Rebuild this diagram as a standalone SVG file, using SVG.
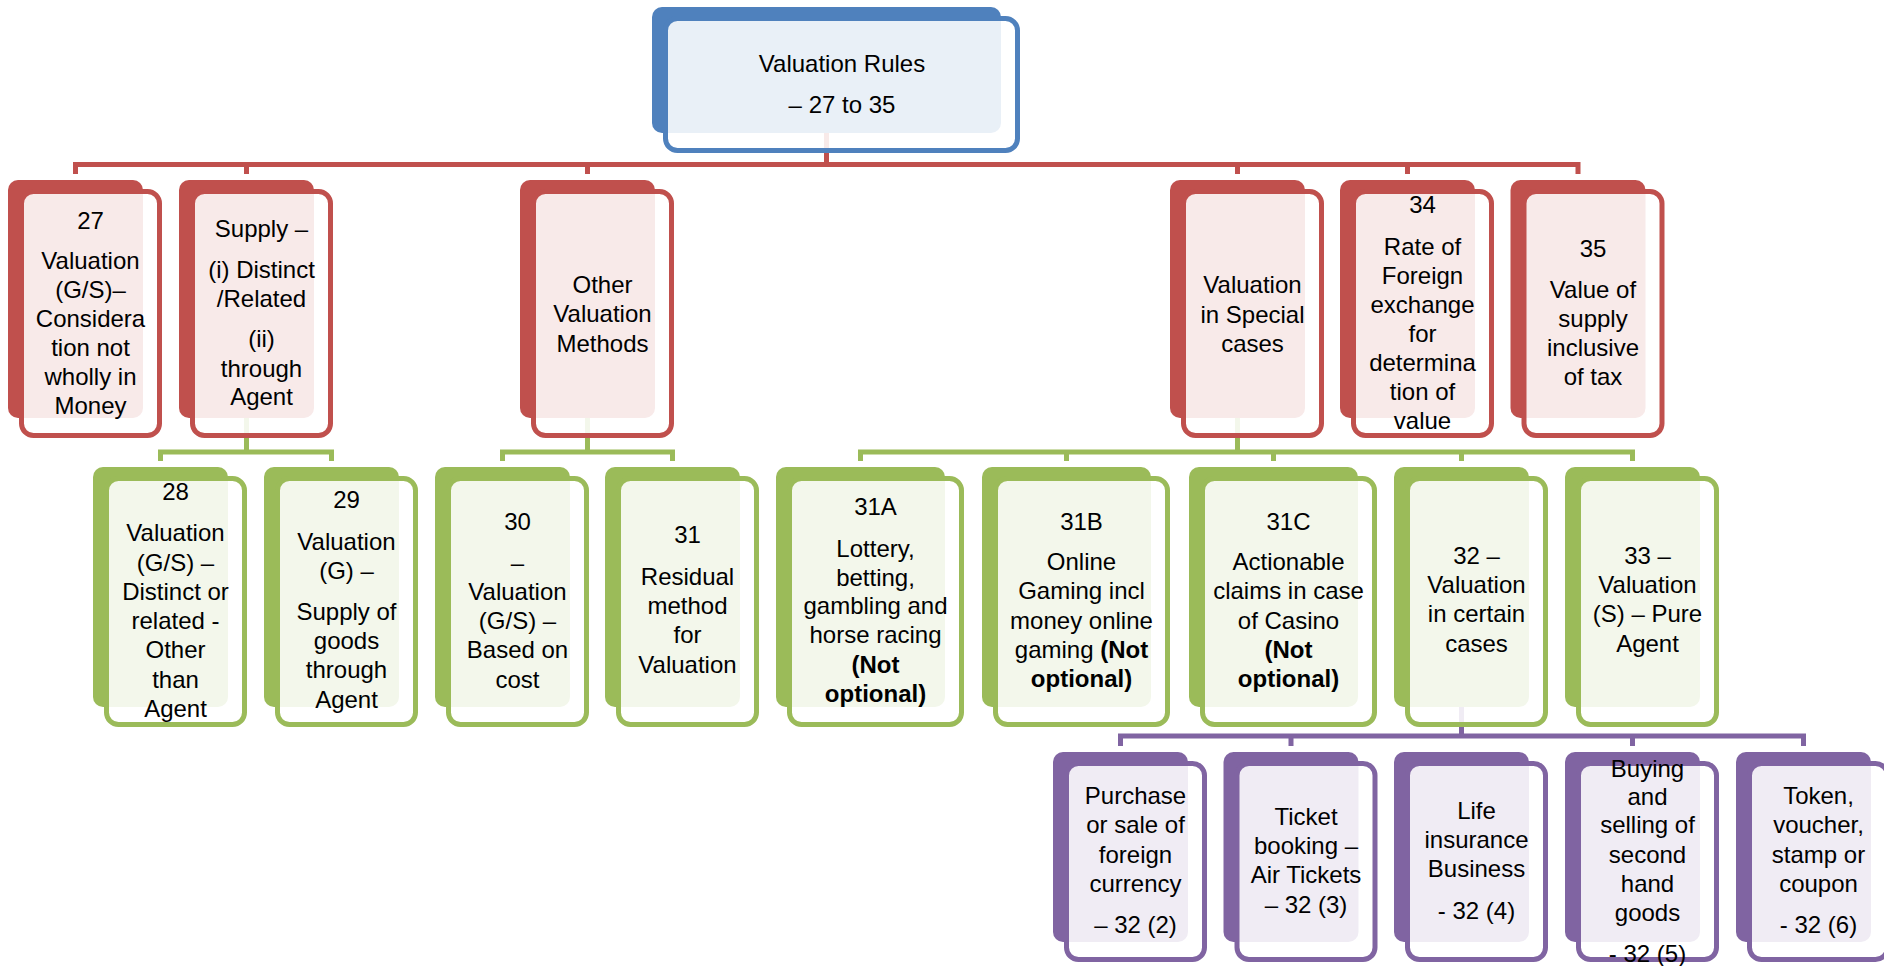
<svg xmlns="http://www.w3.org/2000/svg" width="1884" height="966" viewBox="0 0 1884 966">
  <style>
    .bg { fill: #ffffff; }
    .t { font-family: "Liberation Sans", Arial, sans-serif; font-size: 24px; text-anchor: middle; fill: #000000; }
    .b { font-weight: bold; }
    .link { fill: none; stroke-width: 5; stroke-linejoin: miter; }
    .l-red { stroke: #C0504D; }
    .l-green { stroke: #9BBB59; }
    .l-purple { stroke: #8064A2; }
    .back-blue { fill: #4F81BD; }
    .back-red { fill: #C0504D; }
    .back-green { fill: #9BBB59; }
    .back-purple { fill: #8064A2; }
    .front { fill: #ffffff; fill-opacity: 0.88; stroke-width: 5; }
    .front-blue { stroke: #4F81BD; }
    .front-red { stroke: #C0504D; }
    .front-green { stroke: #9BBB59; }
    .front-purple { stroke: #8064A2; }
  </style>
  <rect class="bg" x="0" y="0" width="1884" height="966"/>

  <!-- connectors (drawn beneath the boxes) -->
  <g id="connectors">
    <path class="link l-red" d="M826.5,133 V164.5"/>
    <path class="link l-red" d="M75.5,174 V164.5 H1578 V174"/>
    <path class="link l-red" d="M246.5,164.5 V174 M587.5,164.5 V174 M1237.5,164.5 V174 M1407.5,164.5 V174"/>

    <path class="link l-green" d="M246.5,418 V452"/>
    <path class="link l-green" d="M160.5,461 V452 H331.5 V461"/>
    <path class="link l-green" d="M587.5,418 V452"/>
    <path class="link l-green" d="M502.5,461 V452 H672.5 V461"/>
    <path class="link l-green" d="M1237.5,418 V452"/>
    <path class="link l-green" d="M860.5,461 V452 H1632.5 V461"/>
    <path class="link l-green" d="M1066.5,452 V461 M1273.5,452 V461 M1461.5,452 V461"/>

    <path class="link l-purple" d="M1461.5,707 V736"/>
    <path class="link l-purple" d="M1120.5,746 V736 H1803.5 V746"/>
    <path class="link l-purple" d="M1291,736 V746 M1632.5,736 V746"/>
  </g>

  <!-- root -->
  <g id="root">
    <rect class="back-blue" x="652" y="7" width="349" height="126" rx="10"/>
    <rect class="front front-blue" x="665.5" y="18.5" width="352" height="132" rx="12"/>
    <text class="t" x="842" y="72">Valuation Rules</text>
    <text class="t" x="842" y="113">– 27 to 35</text>
  </g>

  <!-- level 1 -->
  <g id="r27">
    <rect class="back-red" x="8" y="180" width="135" height="238" rx="10"/>
    <rect class="front front-red" x="21.5" y="191.5" width="138" height="244" rx="12"/>
    <text class="t" x="90.5" y="229">27</text>
    <text class="t" x="90.5" y="269">Valuation</text>
    <text class="t" x="90.5" y="298">(G/S)–</text>
    <text class="t" x="90.5" y="327">Considera</text>
    <text class="t" x="90.5" y="356">tion not</text>
    <text class="t" x="90.5" y="385">wholly in</text>
    <text class="t" x="90.5" y="414">Money</text>
  </g>
  <g id="supply">
    <rect class="back-red" x="179" y="180" width="135" height="238" rx="10"/>
    <rect class="front front-red" x="192.5" y="191.5" width="138" height="244" rx="12"/>
    <text class="t" x="261.5" y="237">Supply –</text>
    <text class="t" x="261.5" y="278">(i) Distinct</text>
    <text class="t" x="261.5" y="307">/Related</text>
    <text class="t" x="261.5" y="347">(ii)</text>
    <text class="t" x="261.5" y="377">through</text>
    <text class="t" x="261.5" y="405">Agent</text>
  </g>
  <g id="other">
    <rect class="back-red" x="520" y="180" width="135" height="238" rx="10"/>
    <rect class="front front-red" x="533.5" y="191.5" width="138" height="244" rx="12"/>
    <text class="t" x="602.5" y="293">Other</text>
    <text class="t" x="602.5" y="322">Valuation</text>
    <text class="t" x="602.5" y="352">Methods</text>
  </g>
  <g id="special">
    <rect class="back-red" x="1170" y="180" width="135" height="238" rx="10"/>
    <rect class="front front-red" x="1183.5" y="191.5" width="138" height="244" rx="12"/>
    <text class="t" x="1252.5" y="293">Valuation</text>
    <text class="t" x="1252.5" y="323">in Special</text>
    <text class="t" x="1252.5" y="352">cases</text>
  </g>
  <g id="r34">
    <rect class="back-red" x="1340" y="180" width="135" height="238" rx="10"/>
    <rect class="front front-red" x="1353.5" y="191.5" width="138" height="244" rx="12"/>
    <text class="t" x="1422.5" y="213">34</text>
    <text class="t" x="1422.5" y="255">Rate of</text>
    <text class="t" x="1422.5" y="284">Foreign</text>
    <text class="t" x="1422.5" y="313">exchange</text>
    <text class="t" x="1422.5" y="342">for</text>
    <text class="t" x="1422.5" y="371">determina</text>
    <text class="t" x="1422.5" y="400">tion of</text>
    <text class="t" x="1422.5" y="429">value</text>
  </g>
  <g id="r35">
    <rect class="back-red" x="1510.5" y="180" width="135" height="238" rx="10"/>
    <rect class="front front-red" x="1524" y="191.5" width="138" height="244" rx="12"/>
    <text class="t" x="1593" y="257">35</text>
    <text class="t" x="1593" y="298">Value of</text>
    <text class="t" x="1593" y="327">supply</text>
    <text class="t" x="1593" y="356">inclusive</text>
    <text class="t" x="1593" y="385">of tax</text>
  </g>

  <!-- level 2 -->
  <g id="r28">
    <rect class="back-green" x="93" y="467" width="135" height="240" rx="10"/>
    <rect class="front front-green" x="106.5" y="478.5" width="138" height="246" rx="12"/>
    <text class="t" x="175.5" y="500">28</text>
    <text class="t" x="175.5" y="541">Valuation</text>
    <text class="t" x="175.5" y="571">(G/S) –</text>
    <text class="t" x="175.5" y="600">Distinct or</text>
    <text class="t" x="175.5" y="629">related -</text>
    <text class="t" x="175.5" y="658">Other</text>
    <text class="t" x="175.5" y="688">than</text>
    <text class="t" x="175.5" y="717">Agent</text>
  </g>
  <g id="r29">
    <rect class="back-green" x="264" y="467" width="135" height="240" rx="10"/>
    <rect class="front front-green" x="277.5" y="478.5" width="138" height="246" rx="12"/>
    <text class="t" x="346.5" y="508">29</text>
    <text class="t" x="346.5" y="550">Valuation</text>
    <text class="t" x="346.5" y="579">(G) –</text>
    <text class="t" x="346.5" y="620">Supply of</text>
    <text class="t" x="346.5" y="649">goods</text>
    <text class="t" x="346.5" y="678">through</text>
    <text class="t" x="346.5" y="708">Agent</text>
  </g>
  <g id="r30">
    <rect class="back-green" x="435" y="467" width="135" height="240" rx="10"/>
    <rect class="front front-green" x="448.5" y="478.5" width="138" height="246" rx="12"/>
    <text class="t" x="517.5" y="530">30</text>
    <text class="t" x="517.5" y="571">–</text>
    <text class="t" x="517.5" y="600">Valuation</text>
    <text class="t" x="517.5" y="629">(G/S) –</text>
    <text class="t" x="517.5" y="658">Based on</text>
    <text class="t" x="517.5" y="688">cost</text>
  </g>
  <g id="r31">
    <rect class="back-green" x="605" y="467" width="135" height="240" rx="10"/>
    <rect class="front front-green" x="618.5" y="478.5" width="138" height="246" rx="12"/>
    <text class="t" x="687.5" y="543">31</text>
    <text class="t" x="687.5" y="585">Residual</text>
    <text class="t" x="687.5" y="614">method</text>
    <text class="t" x="687.5" y="643">for</text>
    <text class="t" x="687.5" y="673">Valuation</text>
  </g>
  <g id="r31a">
    <rect class="back-green" x="776" y="467" width="169" height="240" rx="10"/>
    <rect class="front front-green" x="789.5" y="478.5" width="172" height="246" rx="12"/>
    <text class="t" x="875.5" y="515">31A</text>
    <text class="t" x="875.5" y="557">Lottery,</text>
    <text class="t" x="875.5" y="586">betting,</text>
    <text class="t" x="875.5" y="614">gambling and</text>
    <text class="t" x="875.5" y="643">horse racing</text>
    <text class="t b" x="875.5" y="673">(Not</text>
    <text class="t b" x="875.5" y="702">optional)</text>
  </g>
  <g id="r31b">
    <rect class="back-green" x="982" y="467" width="169" height="240" rx="10"/>
    <rect class="front front-green" x="995.5" y="478.5" width="172" height="246" rx="12"/>
    <text class="t" x="1081.5" y="530">31B</text>
    <text class="t" x="1081.5" y="570">Online</text>
    <text class="t" x="1081.5" y="599">Gaming incl</text>
    <text class="t" x="1081.5" y="629">money online</text>
    <text class="t" x="1081.5" y="658">gaming <tspan class="b">(Not</tspan></text>
    <text class="t b" x="1081.5" y="687">optional)</text>
  </g>
  <g id="r31c">
    <rect class="back-green" x="1189" y="467" width="169" height="240" rx="10"/>
    <rect class="front front-green" x="1202.5" y="478.5" width="172" height="246" rx="12"/>
    <text class="t" x="1288.5" y="530">31C</text>
    <text class="t" x="1288.5" y="570">Actionable</text>
    <text class="t" x="1288.5" y="599">claims in case</text>
    <text class="t" x="1288.5" y="629">of Casino</text>
    <text class="t b" x="1288.5" y="658">(Not</text>
    <text class="t b" x="1288.5" y="687">optional)</text>
  </g>
  <g id="r32">
    <rect class="back-green" x="1394" y="467" width="135" height="240" rx="10"/>
    <rect class="front front-green" x="1407.5" y="478.5" width="138" height="246" rx="12"/>
    <text class="t" x="1476.5" y="564">32 –</text>
    <text class="t" x="1476.5" y="593">Valuation</text>
    <text class="t" x="1476.5" y="622">in certain</text>
    <text class="t" x="1476.5" y="652">cases</text>
  </g>
  <g id="r33">
    <rect class="back-green" x="1565" y="467" width="135" height="240" rx="10"/>
    <rect class="front front-green" x="1578.5" y="478.5" width="138" height="246" rx="12"/>
    <text class="t" x="1647.5" y="564">33 –</text>
    <text class="t" x="1647.5" y="593">Valuation</text>
    <text class="t" x="1647.5" y="622">(S) – Pure</text>
    <text class="t" x="1647.5" y="652">Agent</text>
  </g>

  <!-- level 3 -->
  <g id="p322">
    <rect class="back-purple" x="1053" y="752" width="135" height="190" rx="10"/>
    <rect class="front front-purple" x="1066.5" y="763.5" width="138" height="196" rx="12"/>
    <text class="t" x="1135.5" y="804">Purchase</text>
    <text class="t" x="1135.5" y="833">or sale of</text>
    <text class="t" x="1135.5" y="863">foreign</text>
    <text class="t" x="1135.5" y="892">currency</text>
    <text class="t" x="1135.5" y="933">– 32 (2)</text>
  </g>
  <g id="p323">
    <rect class="back-purple" x="1223.5" y="752" width="135" height="190" rx="10"/>
    <rect class="front front-purple" x="1237" y="763.5" width="138" height="196" rx="12"/>
    <text class="t" x="1306" y="825">Ticket</text>
    <text class="t" x="1306" y="854">booking –</text>
    <text class="t" x="1306" y="883">Air Tickets</text>
    <text class="t" x="1306" y="913">– 32 (3)</text>
  </g>
  <g id="p324">
    <rect class="back-purple" x="1394" y="752" width="135" height="190" rx="10"/>
    <rect class="front front-purple" x="1407.5" y="763.5" width="138" height="196" rx="12"/>
    <text class="t" x="1476.5" y="819">Life</text>
    <text class="t" x="1476.5" y="848">insurance</text>
    <text class="t" x="1476.5" y="877">Business</text>
    <text class="t" x="1476.5" y="919">- 32 (4)</text>
  </g>
  <g id="p325">
    <rect class="back-purple" x="1565" y="752" width="135" height="190" rx="10"/>
    <rect class="front front-purple" x="1578.5" y="763.5" width="138" height="196" rx="12"/>
    <text class="t" x="1647.5" y="777">Buying</text>
    <text class="t" x="1647.5" y="805">and</text>
    <text class="t" x="1647.5" y="833">selling of</text>
    <text class="t" x="1647.5" y="863">second</text>
    <text class="t" x="1647.5" y="892">hand</text>
    <text class="t" x="1647.5" y="921">goods</text>
    <text class="t" x="1647.5" y="962">- 32 (5)</text>
  </g>
  <g id="p326">
    <rect class="back-purple" x="1736" y="752" width="135" height="190" rx="10"/>
    <rect class="front front-purple" x="1749.5" y="763.5" width="138" height="196" rx="12"/>
    <text class="t" x="1818.5" y="804">Token,</text>
    <text class="t" x="1818.5" y="833">voucher,</text>
    <text class="t" x="1818.5" y="863">stamp or</text>
    <text class="t" x="1818.5" y="892">coupon</text>
    <text class="t" x="1818.5" y="933">- 32 (6)</text>
  </g>
</svg>
